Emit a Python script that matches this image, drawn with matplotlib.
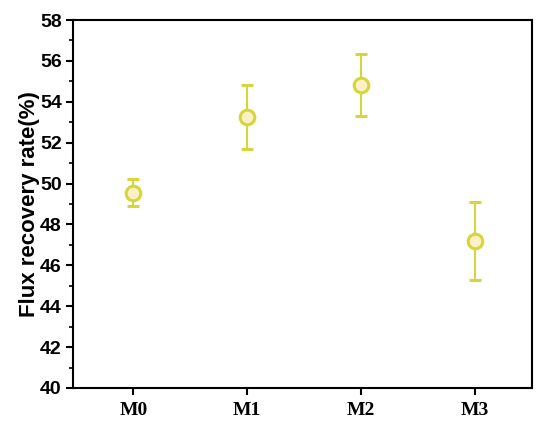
import matplotlib
matplotlib.use("Agg")
import matplotlib.pyplot as plt
from matplotlib.ticker import MultipleLocator

categories = ["M0", "M1", "M2", "M3"]
values = [49.55, 53.25, 54.8, 47.2]
errors = [0.65, 1.55, 1.52, 1.9]
yticks = [40, 42, 44, 46, 48, 50, 52, 54, 56, 58]

fig = plt.figure(figsize=(5.5, 4.22), dpi=100)
ax = fig.add_axes([0.1327, 0.0806, 0.8345, 0.872])

x = list(range(len(categories)))
ax.errorbar(x, values, yerr=errors, fmt='o', color='#d4d63c', ecolor='#d4d63c',
            elinewidth=1.5, capsize=4, capthick=1.5,
            markersize=10.5, markerfacecolor='#fdf0c9', markeredgecolor='#d4d63c',
            markeredgewidth=2.2)

ax.set_xlim(-0.53, 3.5)
ax.set_ylim(40, 58)
ax.set_xticks(x, categories, fontfamily='Liberation Serif', fontweight='bold', fontsize=14)
ax.set_yticks(yticks, [str(v) for v in yticks], fontfamily='Liberation Sans', fontweight='bold', fontsize=14)
ax.yaxis.set_minor_locator(MultipleLocator(1))

ax.tick_params(axis='both', which='major', direction='out', length=5, width=1.5, top=False, right=False)
ax.tick_params(axis='y', which='minor', direction='out', length=3, width=1.2)
ax.tick_params(axis='x', pad=5)
ax.tick_params(axis='y', pad=3)
for s in ax.spines.values():
    s.set_linewidth(1.5)

ax.set_ylabel("Flux recovery rate(%)", fontfamily='Liberation Sans', fontweight='bold', fontsize=16, labelpad=0)

fig.savefig("out.png", dpi=100)
